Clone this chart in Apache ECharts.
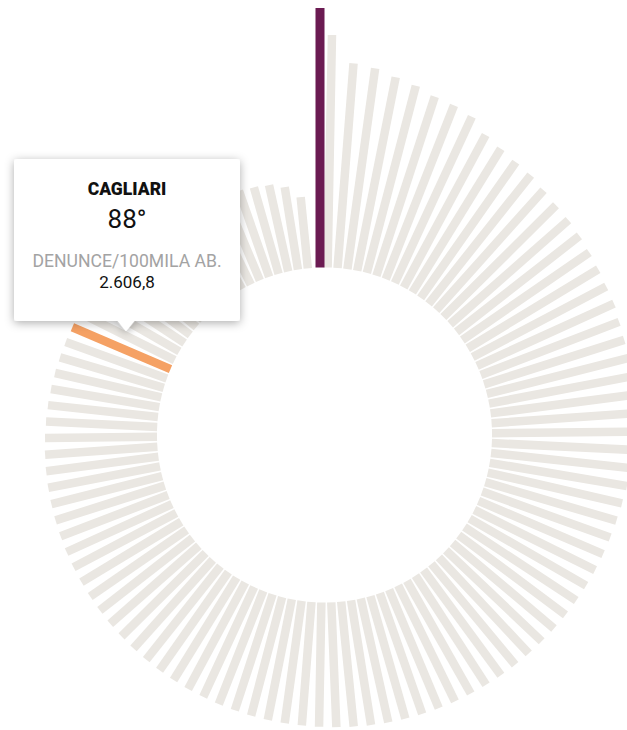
<!DOCTYPE html>
<html>
<head>
<meta charset="utf-8">
<script src="https://cdn.jsdelivr.net/npm/echarts@6/dist/echarts.min.js"></script>
<style>
html,body{margin:0;padding:0;background:#ffffff;}
#chart{width:627px;height:730px;}
</style>
</head>
<body>
<div id="chart"></div>
<script>
// Denunce ogni 100mila abitanti, province in ordine di classifica (1° ... 106°)
const values = [
  6340, 5683, 5016, 4952, 4820, 4727, 4603, 4561, 4476, 4229,
  4122, 4051, 4014, 3933, 3875, 3850, 3809, 3767, 3726, 3689,
  3674, 3618, 3591, 3572, 3552, 3533, 3511, 3489, 3459, 3433,
  3401, 3367, 3342, 3323, 3310, 3298, 3284, 3269, 3254, 3240,
  3225, 3213, 3200, 3188, 3176, 3164, 3152, 3139, 3127, 3115,
  3100, 3083, 3066, 3049, 3037, 3025, 3015, 3003, 2993, 2981,
  2971, 2959, 2949, 2937, 2927, 2915, 2905, 2893, 2883, 2871,
  2861, 2849, 2839, 2827, 2814, 2802, 2790, 2778, 2766, 2751,
  2736, 2719, 2702, 2683, 2663, 2643, 2626, 2606.8, 2580, 2553,
  2526, 2499, 2472, 2446, 2419, 2392, 2365, 2338, 2311, 2284,
  2257, 2228, 2199, 2162, 2040, 1747
];
const ranks = values.map((_, i) => (i + 1) + '°');
const leaderIndex = 0;
const highlightIndex = 87;
const highlightName = 'CAGLIARI';
const measureLabel = 'DENUNCE/100MILA AB.';

const N = values.length;
const RING_OFFSET = 0.685;   // gap left after the leader bar (in bands)
const BAR_W = 8.5;
const LEAD_W = 9;
const GRAY = '#eae7e2';
const LEAD_COLOR = '#6b1b52';
const HL_COLOR = '#f5a164';

function fmtIt(v) {
  const s = v.toFixed(1).split('.');
  return s[0].replace(/\B(?=(\d{3})+(?!\d))/g, '.') + ',' + s[1];
}

function renderItem(params, api) {
  const i = params.dataIndex;
  const v = api.value(0);
  const pos = i === leaderIndex ? 0 : api.value(1) - RING_OFFSET;
  const a = api.coord([0, pos]);
  const b = api.coord([v, pos]);
  const dx = b[0] - a[0], dy = b[1] - a[1];
  const len = Math.hypot(dx, dy) || 1;
  const ux = dx / len, uy = dy / len;
  const nx = uy, ny = -ux;
  let o0, o1;
  if (i === leaderIndex) { o0 = 0; o1 = LEAD_W; } else { o0 = -BAR_W / 2; o1 = BAR_W / 2; }
  const color = i === leaderIndex ? LEAD_COLOR : (i === highlightIndex ? HL_COLOR : GRAY);
  return {
    type: 'polygon',
    z2: i === highlightIndex || i === leaderIndex ? 10 : 1,
    shape: { points: [
      [a[0] + nx * o0, a[1] + ny * o0],
      [b[0] + nx * o0, b[1] + ny * o0],
      [b[0] + nx * o1, b[1] + ny * o1],
      [a[0] + nx * o1, a[1] + ny * o1]
    ] },
    style: { fill: color }
  };
}

const chart = echarts.init(document.getElementById('chart'), null, { renderer: 'svg' });
const boxX = 14, boxY = 159, boxW = 226, boxH = 162;
const cxBox = boxX + boxW / 2;
const tipX = 126;
chart.setOption({
  animation: false,
  polar: { center: [324.5, 435], radius: [167.5, 454] },
  angleAxis: { type: 'value', min: 0, max: N, startAngle: 90, clockwise: true, show: false },
  radiusAxis: { type: 'value', min: 0, max: 7000, show: false },
  series: [{
    type: 'custom',
    coordinateSystem: 'polar',
    renderItem: renderItem,
    encode: { radius: 0, angle: 1 },
    z: 2,
    data: values.map((v, i) => ({ name: ranks[i], value: [v, i] }))
  }],
  graphic: [
    { type: 'polygon', z: 100, shape: { points: [[tipX - 10, boxY + boxH - 1], [tipX + 10, boxY + boxH - 1], [tipX, boxY + boxH + 10]] },
      style: { fill: '#fff', shadowBlur: 8, shadowColor: 'rgba(0,0,0,0.32)', shadowOffsetY: 2 } },
    { type: 'rect', z: 101, shape: { x: boxX, y: boxY, width: boxW, height: boxH, r: 3 },
      style: { fill: '#fff', shadowBlur: 10, shadowColor: 'rgba(0,0,0,0.32)', shadowOffsetY: 2 } },
    { type: 'polygon', z: 102, shape: { points: [[tipX - 11, boxY + boxH - 3], [tipX + 11, boxY + boxH - 3], [tipX, boxY + boxH + 10]] },
      style: { fill: '#fff' } },
    { type: 'text', z: 103, x: cxBox, y: 189, style: { text: highlightName, fill: '#111', font: '900 17.5px Roboto', align: 'center', verticalAlign: 'middle' } },
    { type: 'text', z: 103, x: cxBox, y: 219, style: { text: (highlightIndex + 1) + '°', fill: '#111', font: '26px Roboto', align: 'center', verticalAlign: 'middle' } },
    { type: 'text', z: 103, x: cxBox, y: 261, style: { text: measureLabel, fill: '#a3a3a3', font: '17.6px Roboto', align: 'center', verticalAlign: 'middle' } },
    { type: 'text', z: 103, x: cxBox, y: 282, style: { text: fmtIt(values[highlightIndex]), fill: '#111', font: '17px Roboto', align: 'center', verticalAlign: 'middle' } }
  ]
});
</script>
</body>
</html>
